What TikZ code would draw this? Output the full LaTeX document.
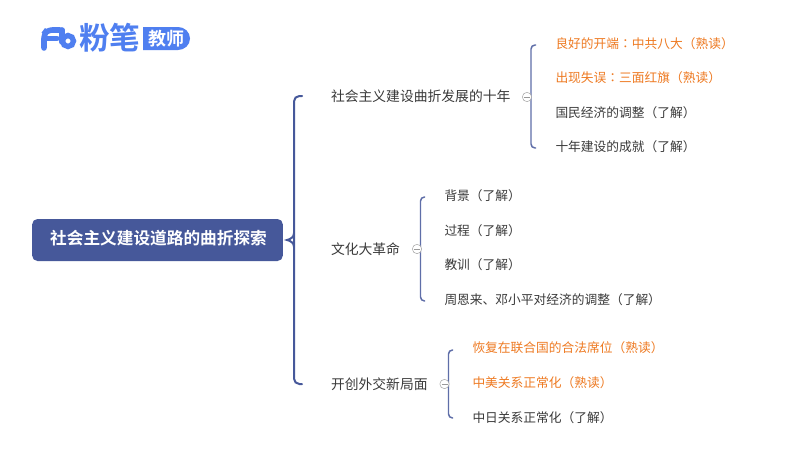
\documentclass[tikz,border=0pt]{standalone}
\usepackage{fontspec}
\setmainfont{Noto Sans CJK SC}
\newfontfamily\cjkb{Noto Sans CJK SC}[BoldFont={Noto Sans CJK SC Bold}]
\newfontfamily\cjktc{Noto Sans CJK TC}
\newcommand\LP{^^^^ff08}
\newcommand\RP{^^^^ff09}
\newcommand\CL{{\cjktc ^^^^ff1a}}
\usetikzlibrary{calc}
\definecolor{navy}{HTML}{46589A}
\definecolor{bracec}{HTML}{5F6EA8}
\definecolor{orangec}{HTML}{EE7A22}
\definecolor{darkc}{HTML}{3A3A3A}
\definecolor{logoc}{HTML}{4F7FF0}
\tikzset{
  every node/.style={inner sep=0pt,outer sep=0pt},
  lab/.style={anchor=west,font=\fontsize{10.35pt}{12pt}\selectfont,text=darkc},
  leaf/.style={anchor=west,font=\fontsize{9.55pt}{12pt}\selectfont,text=darkc},
  hot/.style={leaf,text=orangec},
  sbrace/.style={draw=bracec,line width=1.1pt,rounded corners=3pt},
  fold/.style={circle,draw=gray!70,fill=white,line width=0.4pt,minimum size=7pt},
}
\begin{document}
\begin{tikzpicture}[x=0.75pt,y=-0.75pt]
\useasboundingbox (0,0) rectangle (800,450);
\fill[white] (0,0) rectangle (800,450);
% logo
\draw[logoc,line width=4.2pt,line cap=round,rounded corners=4pt] (44,48) -- (44,34) -- (47,30) -- (60,30);
\draw[logoc,line width=4pt,line cap=round] (44,38.5) -- (57,38.5);
\draw[logoc,line width=4.2pt,line cap=round] (62,30) -- (62,42);
\draw[logoc,line width=4pt] (68,41) circle (5.5);
\node[anchor=west,text=logoc,font=\cjkb\bfseries\fontsize{23pt}{24pt}\selectfont] (logotext) at (79,38) {粉笔};
\fill[logoc] (143,27) -- (178,27) to[out=0,in=90] (190,38.5) to[out=-90,in=0] (178,50) -- (143,50) -- cycle;
\node[text=white,font=\cjkb\bfseries\fontsize{13.5pt}{14pt}\selectfont] (badge) at (166,38.5) {教师};
% root
\node[fill=navy,rounded corners=4pt,minimum width=188pt,minimum height=31.5pt] (root) at (157.5,240) {};
\node[text=white,font=\cjkb\bfseries\fontsize{12.5pt}{14pt}\selectfont] (roottext) at (158.5,238.5) {社会主义建设道路的曲折探索};
% main brace
\coordinate (mt) at (302,96);
\coordinate (mb) at (302,384);
\coordinate (mtip) at (287,240);
\coordinate (mv) at (294,240);
\draw[navy,line width=1.5pt,line cap=round,rounded corners=4pt] (mt) -- (mt -| mv) -- (mb -| mv) -- (mb);
\draw[navy,line width=1.5pt,line cap=round] (294,233) .. controls (294,237) and (291,239) .. (mtip) .. controls (291,241) and (294,243) .. (294,247);
% level 1
\node[lab] (a) at (331,96) {社会主义建设曲折发展的十年};
\node[lab] (b) at (331,249) {文化大革命};
\node[lab] (c) at (331,384) {开创外交新局面};
% braces 2
\coordinate (at) at (536,45); \coordinate (ab) at (536,148);
\coordinate (bt) at (425,197); \coordinate (bb) at (425,301);
\coordinate (ct) at (453,350); \coordinate (cb) at (453,418);
\draw[sbrace] (at) -- (531,45) -- (531,148) -- (ab);
\draw[sbrace] (bt) -- (420.5,197) -- (420.5,301) -- (bb);
\draw[sbrace] (ct) -- (448.5,350) -- (448.5,418) -- (cb);
\foreach \n/\x/\y in {fa/527/97,fb/417/249,fc/444.5/384}{
  \node[fold] (\n) at (\x,\y) {};
  \draw[gray!80,line width=0.5pt] ($(\n)+(-3,0)$) -- ($(\n)+(3,0)$);
}
% leaves
\node[hot] (a1) at (555.5,44) {良好的开端\CL 中共八大\LP 熟读\RP};
\node[hot] (a2) at (555.5,78) {出现失误\CL 三面红旗\LP 熟读\RP};
\node[leaf] (a3) at (555.5,113) {国民经济的调整\LP 了解\RP};
\node[leaf] (a4) at (555.5,147) {十年建设的成就\LP 了解\RP};
\node[leaf] (b1) at (444.5,196) {背景\LP 了解\RP};
\node[leaf] (b2) at (444.5,231) {过程\LP 了解\RP};
\node[leaf] (b3) at (444.5,265) {教训\LP 了解\RP};
\node[leaf] (b4) at (444.5,300) {周恩来、邓小平对经济的调整\LP 了解\RP};
\node[hot] (c1) at (472.5,348) {恢复在联合国的合法席位\LP 熟读\RP};
\node[hot] (c2) at (472.5,383) {中美关系正常化\LP 熟读\RP};
\node[leaf] (c3) at (472.5,418) {中日关系正常化\LP 了解\RP};
\end{tikzpicture}
\end{document}
